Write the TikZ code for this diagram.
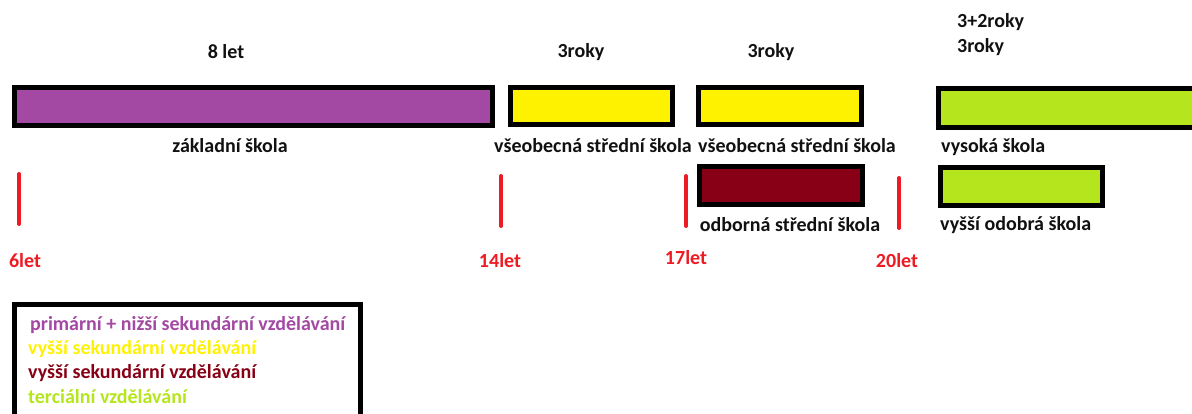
\documentclass[tikz,border=0pt]{standalone}
\usepackage{fontspec}
\setmainfont{Carlito}
\definecolor{ppurple}{HTML}{A349A4}
\definecolor{pyellow}{HTML}{FFF200}
\definecolor{pdred}{HTML}{880015}
\definecolor{pgreen}{HTML}{B5E61D}
\definecolor{pred}{HTML}{ED1C24}
\definecolor{ptext}{HTML}{111111}
\begin{document}
\begin{tikzpicture}[x=1pt,y=-1pt,
  bar/.style={draw=black,line width=5pt},
  lbl/.style={font=\fontsize{20}{24}\selectfont\bfseries,text=ptext,inner sep=0pt},
  agelbl/.style={font=\fontsize{20}{24}\selectfont\bfseries,text=pred,inner sep=0pt},
  tick/.style={draw=pred,line width=4pt,line cap=round},
  leg/.style={font=\fontsize{20}{24}\selectfont\bfseries,inner sep=0pt,anchor=west}]
\useasboundingbox (0,0) rectangle (1192,414);
\clip (0,0) rectangle (1192,414);
\fill[white] (0,0) rectangle (1192,414);
% bars
\path[bar,fill=ppurple] (14.5,87.5) rectangle (492.5,125.5);
\path[bar,fill=pyellow] (510.5,87.5) rectangle (672.5,124.5);
\path[bar,fill=pyellow] (698.5,87.5) rectangle (861.5,124.5);
\path[bar,fill=pdred] (699.5,166.5) rectangle (862.5,204.5);
\path[bar,fill=pgreen] (938.5,88.5) rectangle (1205,127.5);
\path[bar,fill=pgreen] (940.5,167.5) rectangle (1102.5,205.5);
% top labels
\node[lbl] (t1) at (226,52) {8 let};
\node[lbl] (t2) at (581,52) {3roky};
\node[lbl] (t3) at (771,52) {3roky};
\node[lbl,anchor=west] (t4) at (957,22) {3+2roky};
\node[lbl,anchor=west] (t5) at (957,47) {3roky};
% school labels
\node[lbl] (s1) at (230,146) {základní škola};
\node[lbl] (s2) at (593,146) {všeobecná střední škola};
\node[lbl] (s3) at (797,146) {všeobecná střední škola};
\node[lbl] (s4) at (790,225) {odborná střední škola};
\node[lbl,anchor=west] (s5) at (941,147) {vysoká škola};
\node[lbl,anchor=west] (s6) at (940,225) {vyšší odobrá škola};
% ticks
\draw[tick] (19,174) -- (19,224);
\draw[tick] (501,176) -- (501,226);
\draw[tick] (686,176) -- (686,226);
\draw[tick] (899,178) -- (899,228);
% ages
\node[agelbl] (a1) at (25,261) {6let};
\node[agelbl] (a2) at (500,261) {14let};
\node[agelbl] (a3) at (686,258) {17let};
\node[agelbl] (a4) at (897,261) {20let};
% legend
\draw[line width=5pt] (14.5,304.5) rectangle (360.5,430);
\node[leg,text=ppurple] (l1) at (30,325) {primární + nižší sekundární vzdělávání};
\node[leg,text=pyellow] (l2) at (28,349) {vyšší sekundární vzdělávání};
\node[leg,text=pdred] (l3) at (28,373) {vyšší sekundární vzdělávání};
\node[leg,text=pgreen] (l4) at (28,397) {terciální vzdělávání};
\end{tikzpicture}
\end{document}
